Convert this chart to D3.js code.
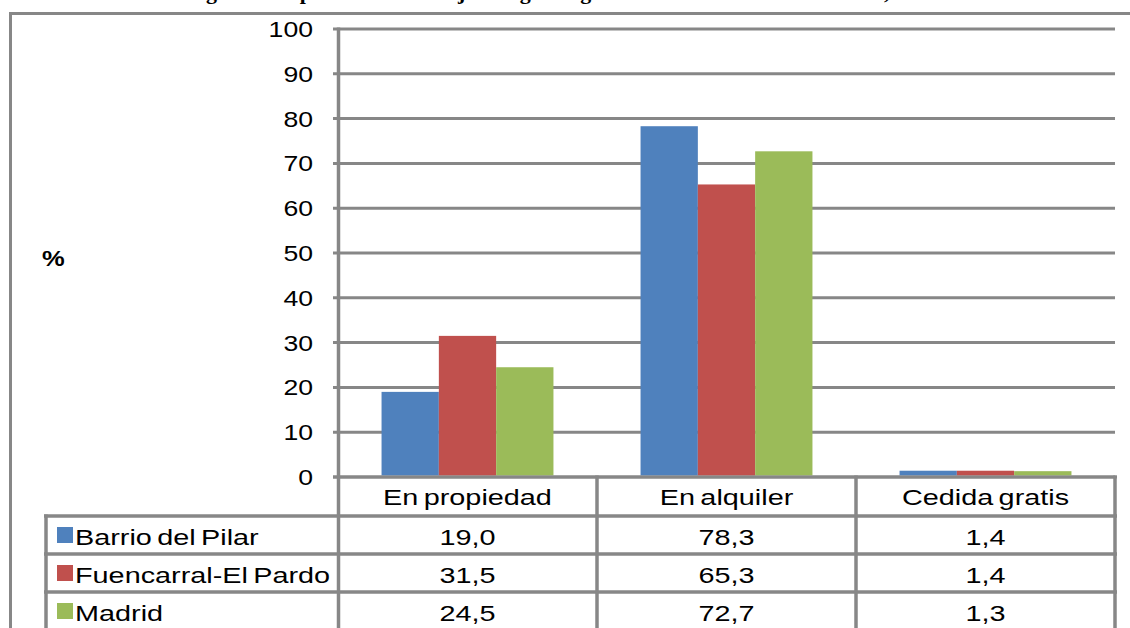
<!DOCTYPE html>
<html><head><meta charset="utf-8">
<script src="https://cdn.jsdelivr.net/npm/d3@7/dist/d3.min.js"></script>
<style>body{margin:0;background:#fff}svg{display:block}</style>
</head><body>
<svg id="c" width="1130" height="628"></svg>
<script>
const categories = ["En propiedad", "En alquiler", "Cedida gratis"];
const seriesNames = ["Barrio del Pilar", "Fuencarral-El Pardo", "Madrid"];
const barrioPilar = [19.0, 78.3, 1.4];
const fuencarral = [31.5, 65.3, 1.4];
const madrid = [24.5, 72.7, 1.3];
const yTicks = [0, 10, 20, 30, 40, 50, 60, 70, 80, 90, 100];
const colors = ["#4F81BD", "#C0504D", "#9BBB59"];
const titleText = "Hogares con población extranjera según régimen de tenencia de la vivienda, 2011";

const seriesValues = [barrioPilar, fuencarral, madrid];
const svg = d3.select("#c");
const grid = "#878787";
const font = "'Liberation Sans', Arial, sans-serif";

const x0 = d3.scaleBand().domain(categories).range([338, 1115]).paddingInner(0).paddingOuter(0);
const x1 = d3.scaleBand().domain(seriesNames).range([0, x0.bandwidth()]).paddingInner(0).paddingOuter(0.76);
const y = d3.scaleLinear().domain([0, 100]).range([477, 29]);

// title (cut off at the top, as in the original)
svg.append("text").attr("x", 178).attr("y", -1)
  .attr("font-family", "'Liberation Serif', 'Times New Roman', serif")
  .attr("font-weight", "bold").attr("font-size", 22).attr("fill", "#000")
  .text(titleText);

// outer frame
svg.append("line").attr("x1", 9).attr("x2", 1130).attr("y1", 13.5).attr("y2", 13.5).attr("stroke", grid).attr("stroke-width", 3);
svg.append("line").attr("x1", 10.5).attr("x2", 10.5).attr("y1", 12).attr("y2", 628).attr("stroke", grid).attr("stroke-width", 3);

// gridlines
svg.append("g").selectAll("line").data(yTicks).join("line")
  .attr("x1", 333).attr("x2", 1115).attr("y1", d => y(d)).attr("y2", d => y(d))
  .attr("stroke", grid).attr("stroke-width", 3);

// bars
const gBars = svg.append("g");
categories.forEach((c, ci) => {
  seriesNames.forEach((s, si) => {
    const v = seriesValues[si][ci];
    gBars.append("rect")
      .attr("x", x0(c) + x1(s)).attr("width", x1.bandwidth())
      .attr("y", y(v)).attr("height", y(0) - y(v) - 1.5)
      .attr("fill", colors[si]);
  });
});

// zero line on top
svg.append("line").attr("x1", 333).attr("x2", 1117).attr("y1", y(0)).attr("y2", y(0)).attr("stroke", grid).attr("stroke-width", 3);
// y axis line
svg.append("line").attr("x1", 338.5).attr("x2", 338.5).attr("y1", y(100) - 1.5).attr("y2", 628).attr("stroke", grid).attr("stroke-width", 3.5);

const stext = (g, x, yy, txt, anchor, opts = {}) => g.append("text")
  .attr("transform", `translate(${x},${yy}) scale(${opts.sx || 1.16},1)`)
  .attr("text-anchor", anchor).attr("font-family", font)
  .attr("font-size", opts.size || 22).attr("font-weight", opts.weight || "normal")
  .attr("word-spacing", opts.ws || "-2px")
  .attr("fill", "#000").text(txt);

// y tick labels
const gy = svg.append("g");
yTicks.forEach(t => stext(gy, 313, y(t) + 8, String(t), "end", {sx: 1.21}));

stext(svg, 42, 266, "%", "start", {weight: "bold", size: 22});

// data table
const TSX = 1.31;
const rowTop = 477, hdrH = 39, rowH = 38;
const rowLines = [rowTop + hdrH, rowTop + hdrH + rowH, rowTop + hdrH + 2 * rowH];
const gt = svg.append("g");
rowLines.forEach(ry => gt.append("line").attr("x1", 44).attr("x2", 1117).attr("y1", ry).attr("y2", ry).attr("stroke", grid).attr("stroke-width", 3.5));
const colEdges = categories.map(c => x0(c) + x0.bandwidth());
colEdges.forEach(cx => gt.append("line").attr("x1", cx).attr("x2", cx).attr("y1", rowTop - 1.5).attr("y2", 628).attr("stroke", grid).attr("stroke-width", 3.5));
gt.append("line").attr("x1", 46).attr("x2", 46).attr("y1", rowLines[0] - 1.5).attr("y2", 628).attr("stroke", grid).attr("stroke-width", 3.5);

const fmt = v => v.toFixed(1).replace(".", ",");
categories.forEach(c => stext(gt, x0(c) + x0.bandwidth() / 2, rowTop + 28, c, "middle", {sx: TSX}));
seriesNames.forEach((s, si) => {
  const base = rowLines[0] + 29 + si * rowH;
  gt.append("rect").attr("x", 57).attr("y", base - 18).attr("width", 16).attr("height", 16).attr("fill", colors[si]);
  stext(gt, 75, base, s, "start", {sx: TSX});
  categories.forEach((c, ci) => stext(gt, x0(c) + x0.bandwidth() / 2, base, fmt(seriesValues[si][ci]), "middle", {sx: TSX}));
});
</script>
</body></html>
